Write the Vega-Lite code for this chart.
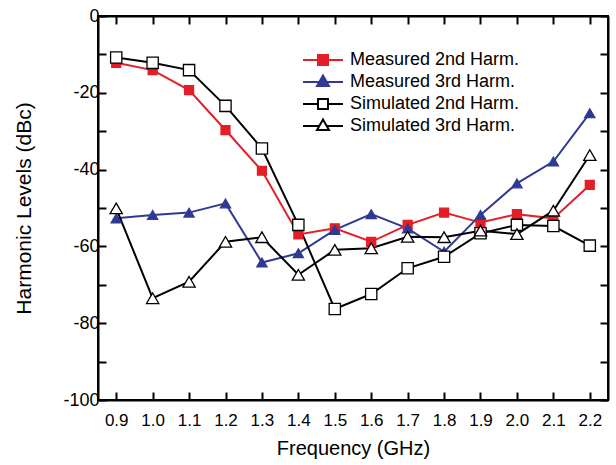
{
  "$schema": "https://vega.github.io/schema/vega-lite/v6.json",
  "width": 510,
  "height": 384,
  "autosize": "none",
  "padding": {"left": 98, "top": 16, "right": 8, "bottom": 65},
  "background": "white",
  "config": {
    "font": "Liberation Sans",
    "view": {"stroke": "black", "strokeWidth": 2},
    "axis": {"grid": false, "domainColor": "black", "domainWidth": 2, "tickColor": "black", "tickWidth": 2, "labelColor": "black", "titleColor": "black", "labelFont": "Liberation Sans", "titleFont": "Liberation Sans", "titleFontWeight": "normal"}
  },
  "data": {"values": [
    {"f": 0.9, "v": -12.2, "s": "Measured 2nd Harm."},
    {"f": 1.0, "v": -14.1, "s": "Measured 2nd Harm."},
    {"f": 1.1, "v": -19.3, "s": "Measured 2nd Harm."},
    {"f": 1.2, "v": -29.7, "s": "Measured 2nd Harm."},
    {"f": 1.3, "v": -40.3, "s": "Measured 2nd Harm."},
    {"f": 1.4, "v": -56.9, "s": "Measured 2nd Harm."},
    {"f": 1.5, "v": -55.3, "s": "Measured 2nd Harm."},
    {"f": 1.6, "v": -58.8, "s": "Measured 2nd Harm."},
    {"f": 1.7, "v": -54.4, "s": "Measured 2nd Harm."},
    {"f": 1.8, "v": -51.2, "s": "Measured 2nd Harm."},
    {"f": 1.9, "v": -53.8, "s": "Measured 2nd Harm."},
    {"f": 2.0, "v": -51.6, "s": "Measured 2nd Harm."},
    {"f": 2.1, "v": -52.7, "s": "Measured 2nd Harm."},
    {"f": 2.2, "v": -44.0, "s": "Measured 2nd Harm."},
    {"f": 0.9, "v": -52.7, "s": "Measured 3rd Harm."},
    {"f": 1.0, "v": -51.8, "s": "Measured 3rd Harm."},
    {"f": 1.1, "v": -51.2, "s": "Measured 3rd Harm."},
    {"f": 1.2, "v": -48.8, "s": "Measured 3rd Harm."},
    {"f": 1.3, "v": -64.2, "s": "Measured 3rd Harm."},
    {"f": 1.4, "v": -61.8, "s": "Measured 3rd Harm."},
    {"f": 1.5, "v": -55.7, "s": "Measured 3rd Harm."},
    {"f": 1.6, "v": -51.6, "s": "Measured 3rd Harm."},
    {"f": 1.7, "v": -55.3, "s": "Measured 3rd Harm."},
    {"f": 1.8, "v": -61.4, "s": "Measured 3rd Harm."},
    {"f": 1.9, "v": -51.8, "s": "Measured 3rd Harm."},
    {"f": 2.0, "v": -43.6, "s": "Measured 3rd Harm."},
    {"f": 2.1, "v": -37.9, "s": "Measured 3rd Harm."},
    {"f": 2.2, "v": -25.3, "s": "Measured 3rd Harm."},
    {"f": 0.9, "v": -10.8, "s": "Simulated 2nd Harm."},
    {"f": 1.0, "v": -12.2, "s": "Simulated 2nd Harm."},
    {"f": 1.1, "v": -14.1, "s": "Simulated 2nd Harm."},
    {"f": 1.2, "v": -23.4, "s": "Simulated 2nd Harm."},
    {"f": 1.3, "v": -34.5, "s": "Simulated 2nd Harm."},
    {"f": 1.4, "v": -54.4, "s": "Simulated 2nd Harm."},
    {"f": 1.5, "v": -76.3, "s": "Simulated 2nd Harm."},
    {"f": 1.6, "v": -72.4, "s": "Simulated 2nd Harm."},
    {"f": 1.7, "v": -65.7, "s": "Simulated 2nd Harm."},
    {"f": 1.8, "v": -62.7, "s": "Simulated 2nd Harm."},
    {"f": 1.9, "v": -56.6, "s": "Simulated 2nd Harm."},
    {"f": 2.0, "v": -54.4, "s": "Simulated 2nd Harm."},
    {"f": 2.1, "v": -54.7, "s": "Simulated 2nd Harm."},
    {"f": 2.2, "v": -59.8, "s": "Simulated 2nd Harm."},
    {"f": 0.9, "v": -50.1, "s": "Simulated 3rd Harm."},
    {"f": 1.0, "v": -73.5, "s": "Simulated 3rd Harm."},
    {"f": 1.1, "v": -69.2, "s": "Simulated 3rd Harm."},
    {"f": 1.2, "v": -58.8, "s": "Simulated 3rd Harm."},
    {"f": 1.3, "v": -57.6, "s": "Simulated 3rd Harm."},
    {"f": 1.4, "v": -67.4, "s": "Simulated 3rd Harm."},
    {"f": 1.5, "v": -60.9, "s": "Simulated 3rd Harm."},
    {"f": 1.6, "v": -60.5, "s": "Simulated 3rd Harm."},
    {"f": 1.7, "v": -57.5, "s": "Simulated 3rd Harm."},
    {"f": 1.8, "v": -57.6, "s": "Simulated 3rd Harm."},
    {"f": 1.9, "v": -55.9, "s": "Simulated 3rd Harm."},
    {"f": 2.0, "v": -56.8, "s": "Simulated 3rd Harm."},
    {"f": 2.1, "v": -50.7, "s": "Simulated 3rd Harm."},
    {"f": 2.2, "v": -36.2, "s": "Simulated 3rd Harm."}
  ]},
  "layer": [
    {
      "mark": {"type": "line", "strokeWidth": 2},
      "encoding": {
        "x": {"field": "f", "type": "quantitative", "scale": {"domain": [0.85, 2.25], "nice": false, "zero": false}, "axis": {"orient": "bottom", "title": "Frequency (GHz)", "values": [0.9,1.0,1.1,1.2,1.3,1.4,1.5,1.6,1.7,1.8,1.9,2.0,2.1,2.2], "format": ".1f", "tickSize": -8, "labelPadding": 20, "labelFontSize": 17, "titleFontSize": 20, "titlePadding": 10, "labelFlush": false}},
        "y": {"field": "v", "type": "quantitative", "scale": {"domain": [-100, 0], "nice": false}, "axis": {"orient": "left", "title": "Harmonic Levels (dBc)", "values": [-100,-90,-80,-70,-60,-50,-40,-30,-20,-10,0], "labelExpr": "datum.value % 20 == 0 ? '' + datum.value : ''", "tickSize": -8, "labelPadding": 7, "labelFontSize": 18, "titleFontSize": 21, "titlePadding": 28, "labelFlush": false}},
        "color": {"field": "s", "type": "nominal", "legend": null, "scale": {"domain": ["Measured 2nd Harm.", "Measured 3rd Harm.", "Simulated 2nd Harm.", "Simulated 3rd Harm."], "range": ["#e41e26", "#2e3a93", "#000000", "#000000"]}}
      }
    },
    {
      "mark": {"type": "point", "filled": true, "strokeWidth": 1.3, "opacity": 1},
      "encoding": {
        "x": {"field": "f", "type": "quantitative", "scale": {"domain": [0.85, 2.25], "nice": false, "zero": false}, "axis": {"orient": "top", "labels": false, "title": null, "values": [0.9,1.0,1.1,1.2,1.3,1.4,1.5,1.6,1.7,1.8,1.9,2.0,2.1,2.2], "tickSize": -8}},
        "y": {"field": "v", "type": "quantitative", "scale": {"domain": [-100, 0], "nice": false}, "axis": {"orient": "right", "labels": false, "title": null, "values": [-100,-90,-80,-70,-60,-50,-40,-30,-20,-10,0], "tickSize": -8}},
        "shape": {"field": "s", "type": "nominal", "legend": null, "scale": {"domain": ["Measured 2nd Harm.", "Measured 3rd Harm.", "Simulated 2nd Harm.", "Simulated 3rd Harm."], "range": ["square", "triangle-up", "square", "triangle-up"]}},
        "fill": {"field": "s", "type": "nominal", "legend": null, "scale": {"domain": ["Measured 2nd Harm.", "Measured 3rd Harm.", "Simulated 2nd Harm.", "Simulated 3rd Harm."], "range": ["#e41e26", "#2e3a93", "#ffffff", "#ffffff"]}},
        "stroke": {"field": "s", "type": "nominal", "legend": null, "scale": {"domain": ["Measured 2nd Harm.", "Measured 3rd Harm.", "Simulated 2nd Harm.", "Simulated 3rd Harm."], "range": ["#e41e26", "#2e3a93", "#000000", "#000000"]}},
        "size": {"field": "s", "type": "nominal", "legend": null, "scale": {"domain": ["Measured 2nd Harm.", "Measured 3rd Harm.", "Simulated 2nd Harm.", "Simulated 3rd Harm."], "range": [80, 150, 70, 150]}}
      }
    },
    {
      "transform": [{"filter": "datum.v > 1000"}],
      "mark": {"type": "point", "filled": true, "strokeWidth": 2, "opacity": 1},
      "encoding": {
        "x": {"field": "f", "type": "quantitative", "axis": null},
        "y": {"field": "v", "type": "quantitative", "axis": null},
        "shape": {"field": "s", "type": "nominal", "title": null, "scale": {"domain": ["Measured 2nd Harm.", "Measured 3rd Harm.", "Simulated 2nd Harm.", "Simulated 3rd Harm."], "range": ["M-1,0H1M-0.25,-0.25H0.25V0.25H-0.25Z", "M-1,0H1M-0.3,0.2L0,-0.32L0.3,0.2Z", "M-1,0H-0.25M0.25,0H1M-0.25,-0.25H0.25V0.25H-0.25Z", "M-1,0H-0.18M0.18,0H1M-0.3,0.2L0,-0.32L0.3,0.2Z"]},
          "legend": {"orient": "none", "legendX": 204, "legendY": 35, "symbolSize": 1600, "symbolStrokeWidth": 2, "symbolOpacity": 1, "labelFontSize": 18, "labelFont": "Liberation Sans", "labelColor": "black", "labelOffset": 6, "clipHeight": 18, "rowPadding": 4, "padding": 0, "labelLimit": 300}},
        "fill": {"field": "s", "type": "nominal", "title": null, "scale": {"domain": ["Measured 2nd Harm.", "Measured 3rd Harm.", "Simulated 2nd Harm.", "Simulated 3rd Harm."], "range": ["#e41e26", "#2e3a93", "#ffffff", "#ffffff"]}},
        "stroke": {"field": "s", "type": "nominal", "title": null, "scale": {"domain": ["Measured 2nd Harm.", "Measured 3rd Harm.", "Simulated 2nd Harm.", "Simulated 3rd Harm."], "range": ["#e41e26", "#2e3a93", "#000000", "#000000"]}}
      }
    }
  ],
  "resolve": {"scale": {"color": "independent", "shape": "independent", "fill": "independent", "stroke": "independent", "size": "independent"}, "axis": {"x": "independent", "y": "independent"}}
}
